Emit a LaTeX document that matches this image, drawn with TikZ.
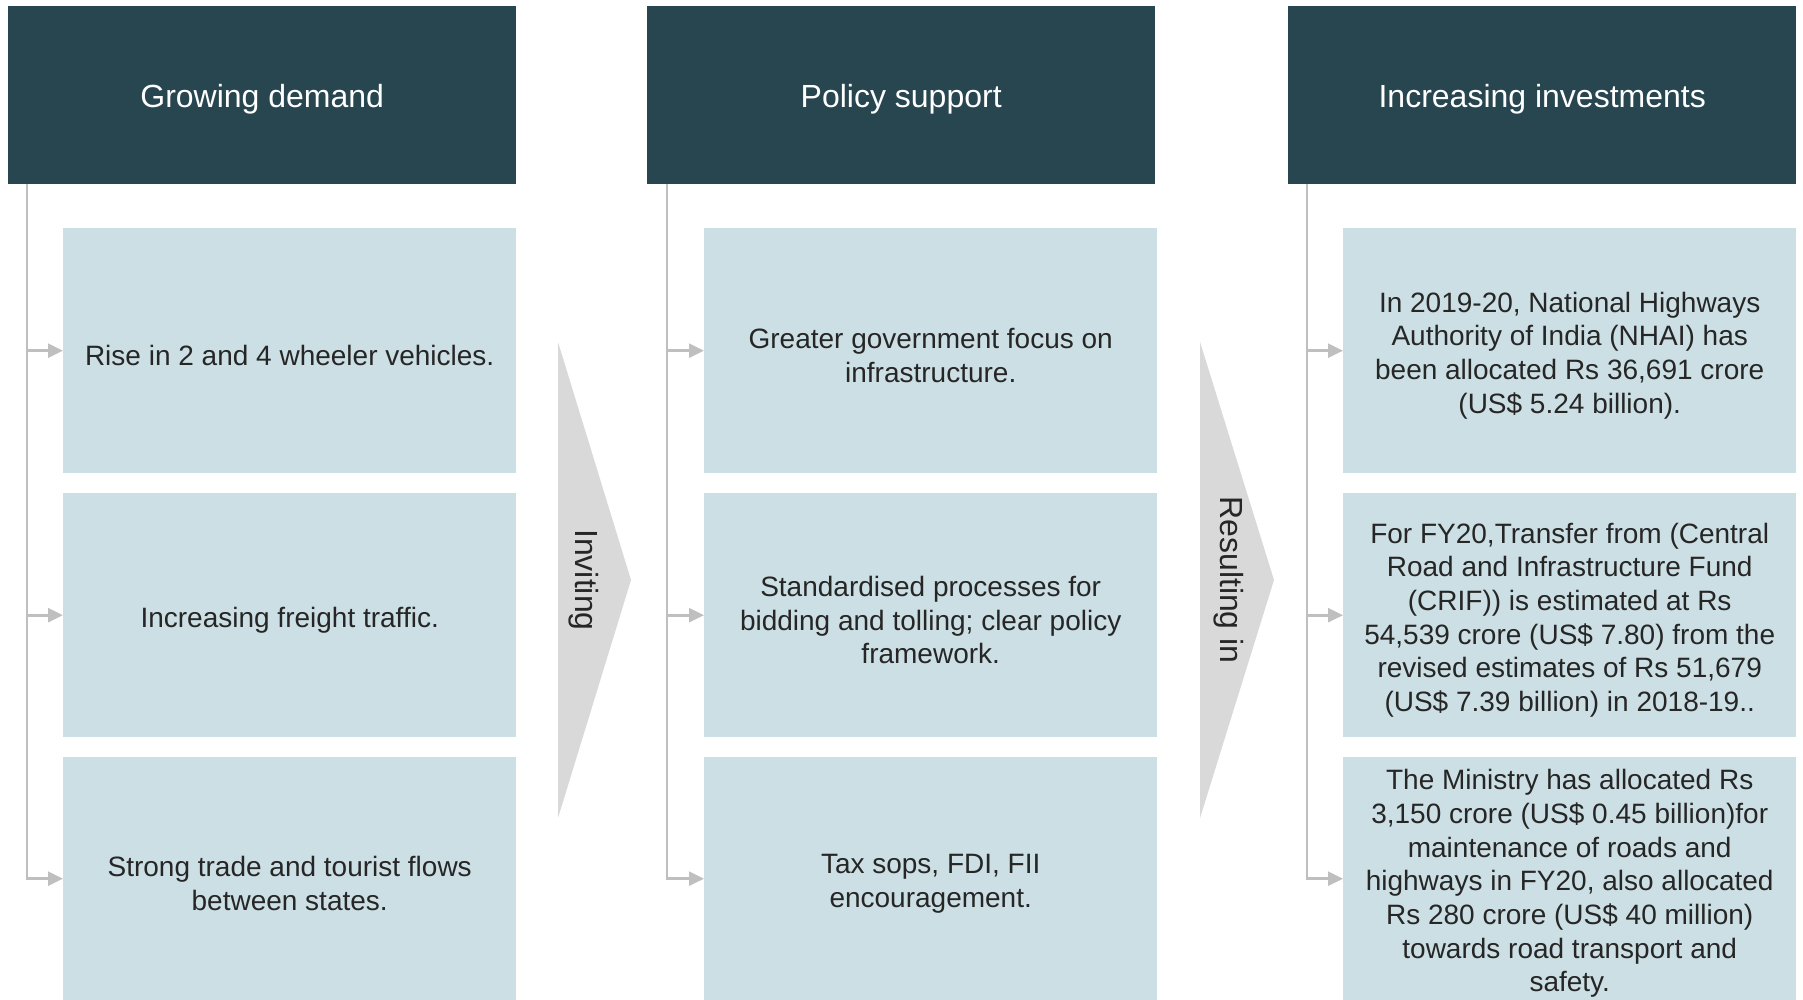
\documentclass[tikz,border=0pt]{standalone}
\usepackage{fontspec}
\setmainfont{Liberation Sans}
\usetikzlibrary{arrows.meta}
\definecolor{hdr}{HTML}{284650}
\definecolor{boxc}{HTML}{CCDFE4}
\definecolor{connc}{HTML}{BFBFBF}
\definecolor{chevc}{HTML}{D9D9D9}
\definecolor{txtc}{HTML}{262626}
\newcommand\firststrut{\rule{0pt}{30pt}}
\newcommand\hdrstrut{\rule{0pt}{31pt}}
\begin{document}
\begin{tikzpicture}[x=1pt,y=-1pt,
  hdrbox/.style={fill=hdr, text=white, anchor=north west, minimum width=508pt, minimum height=178pt, inner sep=0pt, font=\fontsize{32}{38}\selectfont},
  itembox/.style={fill=boxc, text=txtc, anchor=north west, minimum width=453pt, inner sep=0pt, align=center, font=\fontsize{28}{33.7}\selectfont},
  link/.style={draw=connc, line width=2.7pt, -{Triangle[length=15pt,width=14pt]}},
  chevshape/.style={fill=chevc},
  chevlabel/.style={rotate=-90, text=txtc, inner sep=0pt, font=\fontsize{32}{38}\selectfont}]
\useasboundingbox (0,0) rectangle (1803,1000);
\fill[white] (0,0) rectangle (1803,1000);

% headers
\node[hdrbox] (h1) at (8,6) {\hdrstrut Growing demand};
\node[hdrbox] (h2) at (647,6) {\hdrstrut Policy support};
\node[hdrbox] (h3) at (1288,6) {\hdrstrut Increasing investments};

% column 1
\node[itembox, minimum height=245pt] (b11) at (63,228) {\firststrut Rise in 2 and 4 wheeler vehicles.};
\node[itembox, minimum height=244pt] (b12) at (63,493) {\firststrut Increasing freight traffic.};
\node[itembox, minimum height=243pt] (b13) at (63,757) {\firststrut Strong trade and tourist flows\\between states.};

% column 2
\node[itembox, minimum height=245pt] (b21) at (704,228) {\firststrut Greater government focus on\\infrastructure.};
\node[itembox, minimum height=244pt] (b22) at (704,493) {\firststrut Standardised processes for\\bidding and tolling; clear policy\\framework.};
\node[itembox, minimum height=243pt] (b23) at (704,757) {\firststrut Tax sops, FDI, FII\\encouragement.};

% column 3
\node[itembox, minimum height=245pt] (b31) at (1343,228) {\firststrut In 2019-20, National Highways\\Authority of India (NHAI) has\\been allocated Rs 36,691 crore\\(US\$ 5.24 billion).};
\node[itembox, minimum height=244pt] (b32) at (1343,493) {\firststrut For FY20,Transfer from (Central\\Road and Infrastructure Fund\\(CRIF)) is estimated at Rs\\54,539 crore (US\$ 7.80) from the\\revised estimates of Rs 51,679\\(US\$ 7.39 billion) in 2018-19..};
\node[itembox, minimum height=243pt] (b33) at (1343,757) {\firststrut The Ministry has allocated Rs\\3,150 crore (US\$ 0.45 billion)for\\maintenance of roads and\\highways in FY20, also allocated\\Rs 280 crore (US\$ 40 million)\\towards road transport and\\safety.};

% connectors
\coordinate (s1) at (27,184);
\coordinate (s2) at (667,184);
\coordinate (s3) at (1307,184);
\foreach \c in {1,2,3}{
  \foreach \r in {1,2,3}{
    \draw[link] (s\c) |- (b\c\r.west);
  }
}

% chevrons
\fill[chevshape] (558,342) -- (631,580) -- (558,818) -- cycle;
\node[chevlabel] (l1) at (584,580) {Inviting};
\fill[chevshape] (1200,342) -- (1274,580) -- (1200,818) -- cycle;
\node[chevlabel] (l2) at (1229,580) {Resulting in};
\end{tikzpicture}
\end{document}
